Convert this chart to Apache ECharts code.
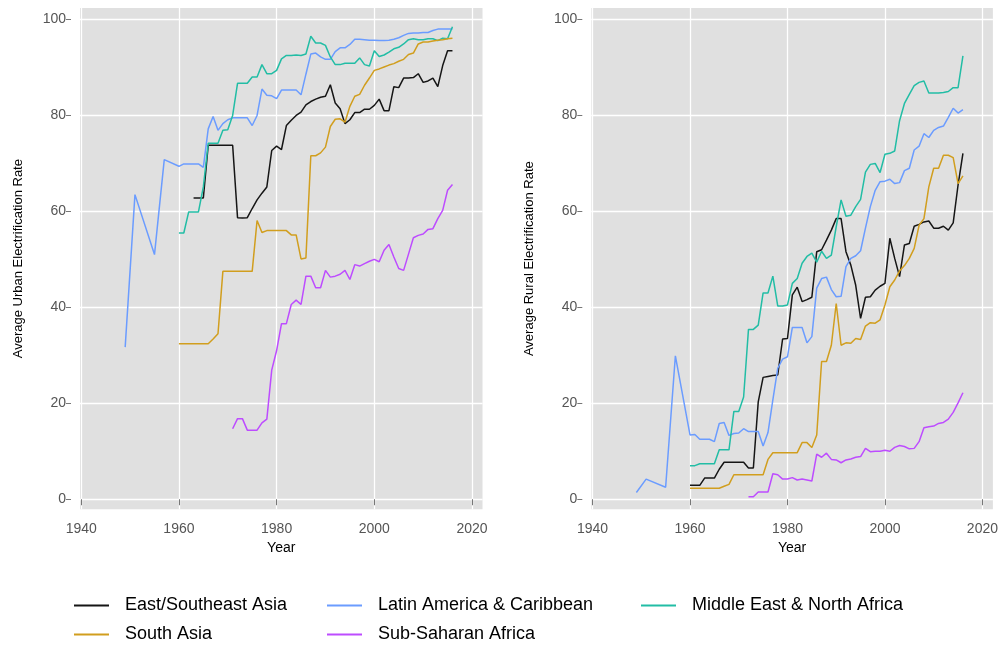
<!DOCTYPE html>
<html><head><meta charset="utf-8">
<script src="https://cdn.jsdelivr.net/npm/echarts@6/dist/echarts.min.js"></script>
<style>html,body{margin:0;padding:0;background:#fff}#c{width:1001px;height:645px}</style>
</head><body><div id="c"></div>
<script>
// ---------- data ----------
const seriesNames = ['East/Southeast Asia','Latin America & Caribbean','Middle East & North Africa','South Asia','Sub-Saharan Africa'];
const xTicks = [1940,1960,1980,2000,2020];
const yTicks = [0,20,40,60,80,100];

// Urban (left panel)
const urbanEastStart = 1963;
const urbanEast = [62.8,62.8,62.8,73.8,73.8,73.8,73.8,73.8,73.8,58.7,58.6,58.7,60.6,62.4,63.8,65.1,72.7,73.6,72.9,77.9,79.0,80.0,80.7,82.2,82.9,83.4,83.8,84.0,86.4,82.6,81.4,78.3,79.1,80.6,80.6,81.3,81.3,82.1,83.4,81.0,81.0,86.0,85.8,87.8,87.8,87.9,88.7,86.9,87.2,87.8,86.0,90.4,93.5,93.5];
const urbanLatamYears = [1949,1951,1955,1957,1960,1961,1962,1963,1964,1965,1966,1967,1968,1969,1970,1971,1972,1973,1974,1975,1976,1977,1978,1979,1980,1981,1982,1983,1984,1985,1986,1987,1988,1989,1990,1991,1992,1993,1994,1995,1996,1997,1998,1999,2000,2001,2002,2003,2004,2005,2006,2007,2008,2009,2010,2011,2012,2013,2014,2015,2016];
const urbanLatam = [31.7,63.5,51.0,70.8,69.4,69.9,69.9,69.9,69.9,69.2,77.2,79.8,76.9,78.3,79.1,79.5,79.5,79.5,79.5,77.9,80.0,85.5,84.2,84.1,83.5,85.3,85.3,85.3,85.3,84.3,88.6,92.8,93.0,92.2,91.7,91.7,93.3,94.1,94.1,94.8,95.9,95.9,95.8,95.7,95.7,95.6,95.6,95.7,95.9,96.2,96.7,97.1,97.2,97.2,97.3,97.3,97.7,98.0,98.0,98.0,98.0];
const urbanMenaStart = 1960;
const urbanMena = [55.5,55.5,59.9,59.9,59.9,65.1,74.2,74.2,74.2,76.9,77.0,80.0,86.7,86.7,86.7,88.0,88.0,90.6,88.7,88.7,89.4,91.8,92.5,92.5,92.6,92.5,92.8,96.5,95.1,95.1,94.6,92.2,90.6,90.6,90.9,90.9,90.9,92.0,90.6,90.3,93.5,92.3,92.6,93.2,93.9,94.2,94.9,95.8,96.0,95.8,95.8,96.0,96.0,95.6,96.1,96.0,98.5];
const urbanSouthStart = 1960;
const urbanSouth = [32.4,32.4,32.4,32.4,32.4,32.4,32.4,33.4,34.5,47.5,47.5,47.5,47.5,47.5,47.5,47.5,58.1,55.6,56.0,56.0,56.0,56.0,56.0,55.1,55.1,50.1,50.3,71.6,71.6,72.2,73.4,77.7,79.2,79.3,78.6,81.9,84.0,84.4,86.3,87.8,89.4,89.7,90.1,90.5,90.8,91.3,91.7,92.7,93.0,94.9,95.3,95.3,95.5,95.7,95.8,96.0,96.1];
const urbanSsaStart = 1971;
const urbanSsa = [14.7,16.8,16.8,14.4,14.4,14.4,15.9,16.7,26.9,31.0,36.6,36.6,40.6,41.5,40.6,46.5,46.5,44.1,44.1,47.7,46.3,46.5,46.9,47.7,45.8,48.9,48.6,49.1,49.6,50.0,49.5,51.9,53.1,50.5,48.1,47.7,51.1,54.5,55.0,55.3,56.25,56.4,58.5,60.2,64.4,65.6];

// Rural (right panel)
const ruralEastStart = 1960;
const ruralEast = [2.9,2.9,2.9,4.4,4.4,4.4,6.25,7.7,7.7,7.7,7.7,7.7,6.5,6.5,20.3,25.4,25.6,25.8,25.9,33.4,33.5,42.6,44.2,41.2,41.6,42.1,51.6,52.0,54.0,56.1,58.5,58.5,51.6,48.8,44.6,37.7,42.1,42.2,43.6,44.4,45.0,54.4,50.2,46.4,53.0,53.3,56.9,57.3,57.8,58.0,56.5,56.5,56.9,56.1,57.6,65.5,72.1];
const ruralLatamYears = urbanLatamYears;
const ruralLatam = [1.4,4.2,2.5,29.9,13.4,13.5,12.5,12.5,12.5,12.0,15.8,16.0,13.3,13.7,13.8,14.7,14.1,14.1,14.1,11.1,13.9,20.7,27.3,29.2,29.7,35.8,35.8,35.8,32.6,33.9,44.0,46.0,46.3,43.7,42.2,42.3,48.5,50.2,50.75,51.8,56.5,61.0,64.4,66.2,66.3,66.7,65.8,66.0,68.5,69.0,72.8,73.6,76.2,75.4,76.9,77.5,77.8,79.6,81.5,80.5,81.2];
const ruralMenaStart = 1960;
const ruralMena = [7.0,7.0,7.4,7.4,7.4,7.4,10.3,10.3,10.3,18.3,18.3,21.3,35.4,35.4,36.3,43.0,43.0,46.5,40.3,40.3,40.5,45.0,46.0,49.2,50.6,51.3,49.4,51.7,50.2,50.9,56.8,62.4,59.0,59.2,61.0,62.5,68.2,69.8,70.0,68.1,71.9,72.1,72.6,78.9,82.5,84.4,86.2,86.9,87.2,84.7,84.7,84.7,84.8,85.0,85.8,85.8,92.4];
const ruralSouthStart = 1960;
const ruralSouth = [2.3,2.3,2.3,2.3,2.3,2.3,2.3,2.7,3.1,5.1,5.1,5.1,5.1,5.1,5.1,5.1,8.3,9.7,9.7,9.7,9.7,9.7,9.7,11.8,11.8,10.8,13.4,28.7,28.7,32.1,40.8,32.1,32.6,32.5,33.5,33.3,36.1,36.8,36.7,37.4,40.5,44.3,45.7,47.6,48.7,50.2,52.3,57.1,58.5,65.1,69.0,69.0,71.7,71.7,71.2,65.8,67.4];
const ruralSsaStart = 1972;
const ruralSsa = [0.5,0.5,1.5,1.5,1.5,5.3,5.1,4.2,4.2,4.5,4.0,4.2,4.0,3.8,9.4,8.75,9.6,8.3,8.2,7.6,8.2,8.4,8.75,8.9,10.6,9.9,10.0,10.0,10.2,10.0,10.8,11.2,11.0,10.5,10.6,12.0,14.9,15.1,15.25,15.8,16.0,16.7,18.1,20.1,22.2];

// ---------- build ----------
const colors = {
  'East/Southeast Asia':'#151515',
  'Latin America & Caribbean':'#6b9cff',
  'Middle East & North Africa':'#22bda5',
  'South Asia':'#d19e1e',
  'Sub-Saharan Africa':'#bd4cff'
};
function fromStart(start, vals){ return vals.map((v,i)=>[start+i, v]); }
function fromYears(years, vals){ return vals.map((v,i)=>[years[i], v]); }

const panels = [
  { 'East/Southeast Asia': fromStart(urbanEastStart, urbanEast),
    'Latin America & Caribbean': fromYears(urbanLatamYears, urbanLatam),
    'Middle East & North Africa': fromStart(urbanMenaStart, urbanMena),
    'South Asia': fromStart(urbanSouthStart, urbanSouth),
    'Sub-Saharan Africa': fromStart(urbanSsaStart, urbanSsa) },
  { 'East/Southeast Asia': fromStart(ruralEastStart, ruralEast),
    'Latin America & Caribbean': fromYears(ruralLatamYears, ruralLatam),
    'Middle East & North Africa': fromStart(ruralMenaStart, ruralMena),
    'South Asia': fromStart(ruralSouthStart, ruralSouth),
    'Sub-Saharan Africa': fromStart(ruralSsaStart, ruralSsa) }
];
const yNames = ['Average Urban Electrification Rate','Average Rural Electrification Rate'];
const FONT = 'Liberation Sans, Arial, Helvetica, sans-serif';

const grids = [
  {left:80, top:8, width:402.5, height:501.3, show:true, backgroundColor:'#e0e0e0', borderWidth:0},
  {left:591.3, top:8, width:403, height:501.3, show:true, backgroundColor:'#e0e0e0', borderWidth:0}
];
const xAxes = [0,1].map(g=>({
  type:'value', gridIndex:g, min:1939.75, max:2022.15,
  name:'Year', nameLocation:'middle', nameGap:29,
  nameTextStyle:{color:'#000', fontSize:14, fontFamily:FONT},
  axisLine:{show:false},
  axisTick:{show:true, length:6, customValues:xTicks, lineStyle:{color:'#777', width:1}},
  axisLabel:{customValues:xTicks, color:'#555', fontSize:14, margin:13, fontFamily:FONT,
             formatter:v=>String(Math.round(v))},
  splitLine:{show:true, lineStyle:{color:'#ffffff', width:1.3}}
}));
const yAxes = [0,1].map(g=>({
  type:'value', gridIndex:g, min:-2.1, max:102.4, offset:9,
  name:yNames[g], nameLocation:'middle', nameGap:46,
  nameTextStyle:{color:'#000', fontSize:13, fontFamily:FONT},
  axisLine:{show:false},
  axisTick:{show:true, length:5, customValues:yTicks, lineStyle:{color:'#777', width:1}},
  axisLabel:{customValues:yTicks, color:'#555', fontSize:14, margin:5, fontFamily:FONT,
             formatter:v=>String(Math.round(v))},
  splitLine:{show:true, lineStyle:{color:'#ffffff', width:1.3}}
}));
const series = [];
panels.forEach((p,g)=>{
  seriesNames.forEach(n=>{
    series.push({
      name:n, type:'line', xAxisIndex:g, yAxisIndex:g, data:p[n],
      symbol:'none', showSymbol:false, animation:false,
      color:colors[n], lineStyle:{width:1.5, color:colors[n]}
    });
  });
});
const legendBase = {orient:'vertical', top:595.5, padding:0, itemGap:9, itemWidth:35, itemHeight:2, icon:'rect',
  textStyle:{color:'#000', fontSize:18, lineHeight:20, fontFamily:FONT, padding:[0,0,0,11]}};
const legends = [
  Object.assign({}, legendBase, {left:74, data:['East/Southeast Asia','South Asia']}),
  Object.assign({}, legendBase, {left:327, data:['Latin America & Caribbean','Sub-Saharan Africa']}),
  Object.assign({}, legendBase, {left:641, data:['Middle East & North Africa']})
];

const chart = echarts.init(document.getElementById('c'), null, {renderer:'canvas'});
chart.setOption({
  animation:false, backgroundColor:'#ffffff',
  grid:grids, xAxis:xAxes, yAxis:yAxes, legend:legends, series:series
});
</script></body></html>
